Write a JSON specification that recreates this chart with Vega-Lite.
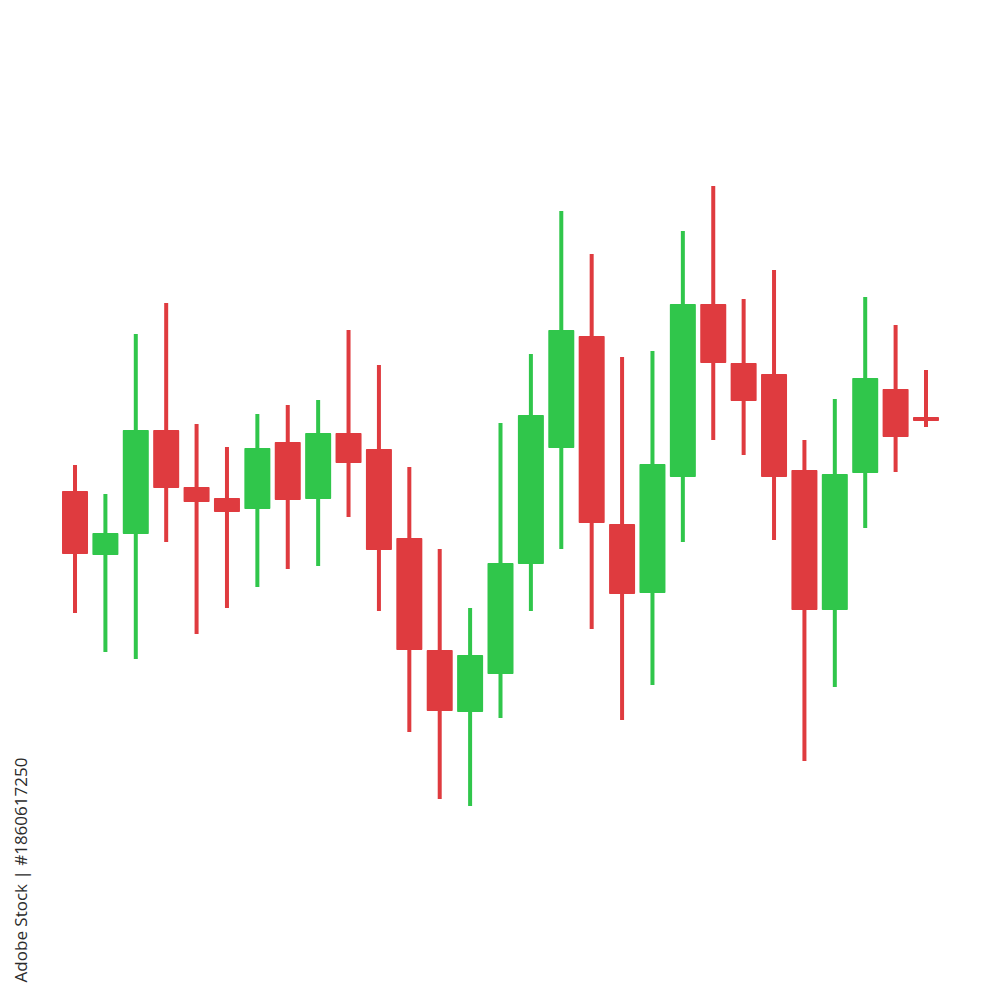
{
  "$schema": "https://vega.github.io/schema/vega-lite/v6.json",
  "width": 1000,
  "height": 1000,
  "autosize": {"type": "fit", "contains": "padding"},
  "padding": 0,
  "background": "white",
  "config": {"view": {"stroke": null}},
  "datasets": {
    "candles": [
      {"i": 1, "open": 50.9, "high": 53.5, "low": 38.7, "close": 44.6, "dir": "down"},
      {"i": 2, "open": 44.5, "high": 50.6, "low": 34.8, "close": 46.7, "dir": "up"},
      {"i": 3, "open": 46.6, "high": 66.6, "low": 34.1, "close": 57.0, "dir": "up"},
      {"i": 4, "open": 57.0, "high": 69.7, "low": 45.8, "close": 51.2, "dir": "down"},
      {"i": 5, "open": 51.3, "high": 57.6, "low": 36.6, "close": 49.8, "dir": "down"},
      {"i": 6, "open": 50.2, "high": 55.3, "low": 39.2, "close": 48.8, "dir": "down"},
      {"i": 7, "open": 49.1, "high": 58.6, "low": 41.3, "close": 55.2, "dir": "up"},
      {"i": 8, "open": 55.8, "high": 59.5, "low": 43.1, "close": 50.0, "dir": "down"},
      {"i": 9, "open": 50.1, "high": 60.0, "low": 43.4, "close": 56.7, "dir": "up"},
      {"i": 10, "open": 56.7, "high": 67.0, "low": 48.3, "close": 53.7, "dir": "down"},
      {"i": 11, "open": 55.1, "high": 63.5, "low": 38.9, "close": 45.0, "dir": "down"},
      {"i": 12, "open": 46.2, "high": 53.3, "low": 26.8, "close": 35.0, "dir": "down"},
      {"i": 13, "open": 35.0, "high": 45.1, "low": 20.1, "close": 28.9, "dir": "down"},
      {"i": 14, "open": 28.8, "high": 39.2, "low": 19.4, "close": 34.5, "dir": "up"},
      {"i": 15, "open": 32.6, "high": 57.7, "low": 28.2, "close": 43.7, "dir": "up"},
      {"i": 16, "open": 43.6, "high": 64.6, "low": 38.9, "close": 58.5, "dir": "up"},
      {"i": 17, "open": 55.2, "high": 78.9, "low": 45.1, "close": 67.0, "dir": "up"},
      {"i": 18, "open": 66.4, "high": 74.6, "low": 37.1, "close": 47.7, "dir": "down"},
      {"i": 19, "open": 47.6, "high": 64.3, "low": 28.0, "close": 40.6, "dir": "down"},
      {"i": 20, "open": 40.7, "high": 64.9, "low": 31.5, "close": 53.6, "dir": "up"},
      {"i": 21, "open": 52.3, "high": 76.9, "low": 45.8, "close": 69.6, "dir": "up"},
      {"i": 22, "open": 69.6, "high": 81.4, "low": 56.0, "close": 63.7, "dir": "down"},
      {"i": 23, "open": 63.7, "high": 70.1, "low": 54.5, "close": 59.9, "dir": "down"},
      {"i": 24, "open": 62.6, "high": 73.0, "low": 46.0, "close": 52.3, "dir": "down"},
      {"i": 25, "open": 53.0, "high": 56.0, "low": 23.9, "close": 39.0, "dir": "down"},
      {"i": 26, "open": 39.0, "high": 60.1, "low": 31.3, "close": 52.6, "dir": "up"},
      {"i": 27, "open": 52.7, "high": 70.3, "low": 47.2, "close": 62.2, "dir": "up"},
      {"i": 28, "open": 61.1, "high": 67.5, "low": 52.8, "close": 56.3, "dir": "down"},
      {"i": 29, "open": 58.3, "high": 63.0, "low": 57.3, "close": 57.9, "dir": "down"}
    ],
    "credit": [
      {"i": -0.744, "p": 13.0, "label": "Adobe Stock | #1860617250"}
    ]
  },
  "layer": [
    {
      "data": {"name": "candles"},
      "mark": {"type": "rule", "strokeWidth": 4},
      "encoding": {
        "x": {"field": "i", "type": "quantitative", "scale": {"domain": [-1.468, 31.435], "nice": false, "zero": false, "padding": 0}, "axis": null},
        "y": {"field": "low", "type": "quantitative", "scale": {"domain": [0, 100], "nice": false, "zero": false, "padding": 0}, "axis": null},
        "y2": {"field": "high"},
        "color": {"field": "dir", "type": "nominal", "scale": {"domain": ["up", "down"], "range": ["#30c64b", "#df3b3f"]}, "legend": null}
      }
    },
    {
      "data": {"name": "candles"},
      "mark": {"type": "bar", "width": 26, "cornerRadius": 1},
      "encoding": {
        "x": {"field": "i", "type": "quantitative", "scale": {"domain": [-1.468, 31.435], "nice": false, "zero": false, "padding": 0}, "axis": null},
        "y": {"field": "open", "type": "quantitative", "scale": {"domain": [0, 100], "nice": false, "zero": false, "padding": 0}, "axis": null},
        "y2": {"field": "close"},
        "color": {"field": "dir", "type": "nominal", "scale": {"domain": ["up", "down"], "range": ["#30c64b", "#df3b3f"]}, "legend": null}
      }
    },
    {
      "data": {"name": "credit"},
      "mark": {"type": "text", "angle": 270, "font": "Open Sans", "fontSize": 17, "fontWeight": 500, "color": "#2b2b2b", "align": "center", "baseline": "middle"},
      "encoding": {
        "x": {"field": "i", "type": "quantitative", "scale": {"domain": [-1.468, 31.435], "nice": false, "zero": false, "padding": 0}, "axis": null},
        "y": {"field": "p", "type": "quantitative", "scale": {"domain": [0, 100], "nice": false, "zero": false, "padding": 0}, "axis": null},
        "text": {"field": "label"}
      }
    }
  ]
}
